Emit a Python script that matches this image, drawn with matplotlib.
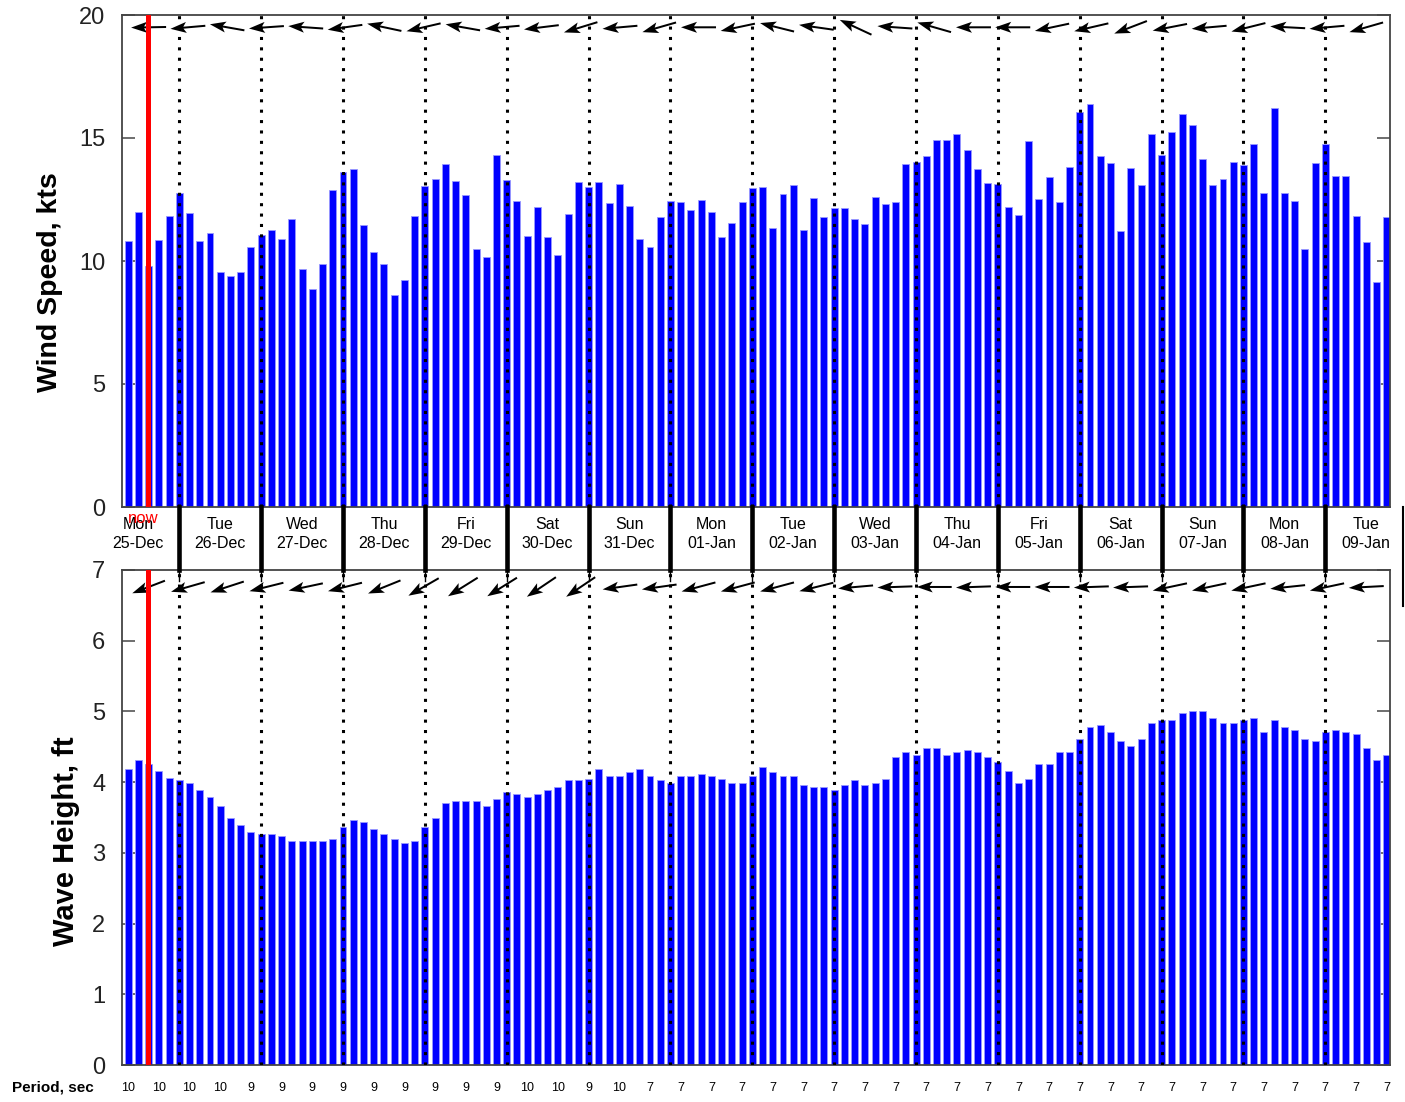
import numpy as np
import matplotlib
matplotlib.use('Agg')
from matplotlib import pyplot as plt
from matplotlib.lines import Line2D

# 3-hourly forecast, first bar Mon 25-Dec 09:00
wind = [10.81, 12.0, 9.81, 10.84, 11.81, 12.78, 11.95, 10.81, 11.14, 9.54,
	9.39, 9.54, 10.58, 11.05, 11.26, 10.89, 11.70, 9.68, 8.88, 9.89,
	12.87, 13.6, 13.74, 11.45, 10.37, 9.88, 8.62, 9.22, 11.84, 13.03,
	13.35, 13.94, 13.26, 12.68, 10.47, 10.16, 14.31, 13.30, 12.43, 11.0,
	12.18, 10.97, 10.24, 11.9, 13.23, 12.99, 13.2, 12.34, 13.12, 12.24,
	10.88, 10.57, 11.78, 12.45, 12.39, 12.07, 12.46, 12.0, 10.96, 11.54,
	12.40, 12.95, 13.0, 11.34, 12.71, 13.07, 11.24, 12.58, 11.77, 12.14,
	12.16, 11.69, 11.51, 12.59, 12.32, 12.40, 13.93, 14.04, 14.26, 14.93,
	14.93, 15.16, 14.53, 13.73, 13.19, 13.12, 12.19, 11.89, 14.86, 12.54,
	13.40, 12.38, 13.82, 16.04, 16.39, 14.28, 14.0, 11.2, 13.78, 13.09,
	15.18, 14.32, 15.24, 15.99, 15.51, 14.16, 13.07, 13.32, 14.04, 13.9,
	14.76, 12.77, 16.23, 12.78, 12.43, 10.47, 14.0, 14.74, 13.47, 13.47,
	11.84, 10.77, 9.15, 11.78]

wave = [4.19, 4.32, 4.25, 4.16, 4.06, 4.03, 3.99, 3.89, 3.79, 3.66,
	3.50, 3.40, 3.30, 3.27, 3.27, 3.24, 3.17, 3.17, 3.17, 3.17,
	3.20, 3.37, 3.46, 3.43, 3.34, 3.27, 3.20, 3.14, 3.17, 3.37,
	3.50, 3.70, 3.73, 3.73, 3.73, 3.66, 3.76, 3.86, 3.83, 3.79,
	3.83, 3.89, 3.93, 4.03, 4.03, 4.05, 4.19, 4.09, 4.09, 4.15,
	4.19, 4.09, 4.03, 3.99, 4.09, 4.09, 4.12, 4.09, 4.05, 3.99,
	3.99, 4.09, 4.22, 4.15, 4.09, 4.09, 3.96, 3.93, 3.93, 3.89,
	3.96, 4.03, 3.96, 3.99, 4.05, 4.35, 4.42, 4.38, 4.48, 4.48,
	4.38, 4.42, 4.45, 4.42, 4.35, 4.29, 4.16, 3.99, 4.05, 4.25,
	4.25, 4.42, 4.42, 4.61, 4.78, 4.81, 4.71, 4.58, 4.51, 4.61,
	4.84, 4.88, 4.88, 4.98, 5.01, 5.01, 4.91, 4.84, 4.84, 4.88,
	4.91, 4.71, 4.88, 4.78, 4.74, 4.61, 4.58, 4.71, 4.74, 4.71,
	4.68, 4.48, 4.31, 4.38]

# period shown every 3rd bar
periods = [10, 10, 10, 10, 9, 9, 9, 9, 9, 9, 9, 9, 9, 10, 10, 9, 10,
	7, 7, 7, 7, 7, 7, 7, 7, 7, 7, 7, 7, 7, 7, 7, 7, 7, 7, 7, 7, 7, 7, 7, 7, 7]

# arrow directions (deg, direction the arrow points, ccw from east)
wind_dir = [181, 185, 170, 184, 176, 188, 168, 193, 170, 185, 187, 197, 185, 196,
	180, 192, 166, 172, 155, 176, 164, 180, 180, 192, 193, 201, 191, 185,
	194, 177, 185, 196]
wave_dir = [201, 196, 198, 194, 192, 194, 202, 210, 212, 212, 214, 214, 188, 188,
	195, 195, 195, 194, 185, 182, 180, 182, 180, 180, 182, 182, 192, 192,
	192, 186, 192, 183]

day_names = ['Mon', 'Tue', 'Wed', 'Thu', 'Fri', 'Sat', 'Sun', 'Mon', 'Tue', 'Wed',
	'Thu', 'Fri', 'Sat', 'Sun', 'Mon', 'Tue']
day_dates = ['25-Dec', '26-Dec', '27-Dec', '28-Dec', '29-Dec', '30-Dec', '31-Dec',
	'01-Jan', '02-Jan', '03-Jan', '04-Jan', '05-Jan', '06-Jan', '07-Jan', '08-Jan', '09-Jan']

now_t = 0.62
XL = (0.30, 15.79)


def arrows(ax, xs, y, dirs):
	d = np.radians(dirs)
	L = 0.35
	ax.quiver(xs, np.full(len(xs), y), L*np.cos(d), L*np.sin(d), pivot='middle',
		angles='uv', units='inches', scale_units='inches', scale=1, width=0.02,
		headwidth=5.5, headlength=8, headaxislength=6.5, color='black', zorder=5)


def deco(ax, ymax, yt):
	ax.set_xlim(*XL)
	ax.set_ylim(0, ymax)
	ax.set_xticks([])
	ax.set_yticks(yt)
	ax.tick_params(axis='y', direction='in', length=9.5, width=1.2, pad=12,
		labelsize=17, right=True, color='#555555', labelcolor='#222222')
	for s in ax.spines.values():
		s.set_color('#444444')
		s.set_linewidth(1.3)
	for d in range(1, 16):
		ax.axvline(d, color='black', ls=(0, (1, 2.4)), lw=2.2, zorder=4)
	ax.axvline(now_t, color='red', lw=3.6, zorder=6)


def main():
	plt.rcParams['font.family'] = ['Liberation Sans', 'DejaVu Sans']
	fig = plt.figure(figsize=(14.05, 11.02), dpi=100)
	t = (9 + 3*np.arange(len(wind))) / 24.0

	ax1 = fig.add_axes([122/1405, 1-507/1102, 1268/1405, 492/1102])
	ax1.bar(t, wind, width=0.085, color='#0000ff', edgecolor='#9999ff', lw=0.6, zorder=2)
	deco(ax1, 20, [0, 5, 10, 15, 20])
	xs = np.linspace(t[2], t[-3], len(wind_dir))
	arrows(ax1, xs, 19.5, wind_dir)

	ax2 = fig.add_axes([122/1405, 1-1065/1102, 1268/1405, 495/1102])
	ax2.bar(t, wave, width=0.085, color='#0000ff', edgecolor='#9999ff', lw=0.6, zorder=2)
	deco(ax2, 7, range(8))
	arrows(ax2, xs, 6.76, wave_dir)

	# day labels between panels
	axm = fig.add_axes([122/1405, 1-570/1102, 1268/1405, 63/1102])
	axm.set_xlim(*XL)
	axm.set_ylim(0, 1)
	axm.axis('off')
	for d in range(1, 16):
		axm.axvline(d, ymin=0, ymax=1, color='black', lw=3.3, clip_on=False)
		axm.axvline(d, ymin=-0.18, ymax=0, color='black', lw=1.0, clip_on=False)
	for i in range(len(day_names)):
		axm.text(i+0.5, 0.57, day_names[i]+'\n'+day_dates[i], ha='center', va='center',
			fontsize=11.5, linespacing=1.4, clip_on=False)
	axm.text(now_t-0.06, 0.81, 'now', color='red', ha='center', va='center', fontsize=12)
	fig.add_artist(Line2D([1402.5/1405]*2, [1-507/1102, 1-606/1102], color='black', lw=1.5))

	# wave period row
	for i in range(len(periods)):
		ax2.text(t[3*i], -0.046, str(periods[i]), transform=ax2.get_xaxis_transform(),
			ha='center', va='center', fontsize=9, clip_on=False)
	fig.text(12/1405, 1-1088/1102, 'Period, sec', fontsize=11, fontweight='bold',
		ha='left', va='center')

	fig.text(50/1405, 1-282/1102, 'Wind Speed, kts', rotation=90, fontsize=20.5,
		fontweight='bold', ha='center', va='center')
	fig.text(66/1405, 1-841/1102, 'Wave Height, ft', rotation=90, fontsize=21,
		fontweight='bold', ha='center', va='center')

	fig.savefig('out.png', dpi=100)
	return 0


if __name__ == '__main__':
	main()
